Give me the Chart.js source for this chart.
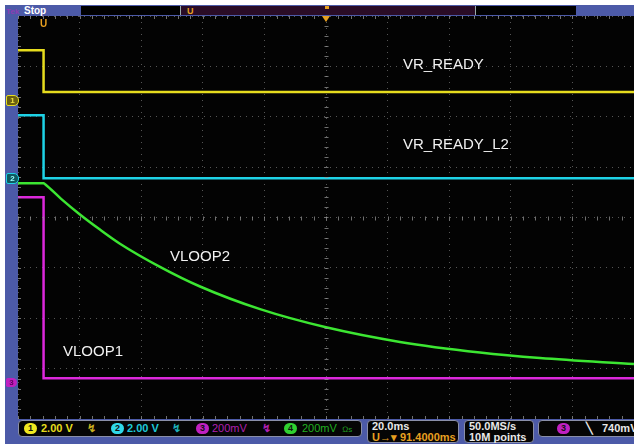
<!DOCTYPE html>
<html>
<head>
<meta charset="utf-8">
<script src="https://cdn.jsdelivr.net/npm/chart.js@4.4.0/dist/chart.umd.min.js"></script>
<style>
  body { margin: 0; background: #fff; }
  #scope { position: relative; width: 634px; height: 444px; overflow: hidden; background: #fff; font-family: "Liberation Sans", Arial, sans-serif; }
  .frame { position: absolute; background: #4c5aa8; }
  #plot { position: absolute; left: 18px; top: 16px; width: 616px; height: 403px; background: #030303; }
  .lbl { position: absolute; color: #f2f2f2; font-size: 15px; line-height: 15px; white-space: nowrap; }
  .box { position: absolute; background: #050505; border: 1px solid #8a8fa8; border-radius: 4px; box-sizing: border-box; }
  .st { position: absolute; font-size: 11px; font-weight: bold; line-height: 11px; white-space: nowrap; }
  .badge { position: absolute; width: 13px; height: 11px; border-radius: 6px; font-size: 9px; font-weight: bold; line-height: 11px; text-align: center; color: #111; }
  .gnd { position: absolute; left: 6px; width: 11px; height: 9px; border-radius: 2px 5px 5px 2px; font-size: 8px; font-weight: bold; line-height: 9px; text-align: center; }
</style>
</head>
<body>
<div id="scope">
  <div class="frame" style="left:5px;top:5px;width:629px;height:11px;"></div>
  <div class="frame" style="left:5px;top:5px;width:13px;height:439px;"></div>
  <div class="frame" style="left:5px;top:419px;width:629px;height:25px;"></div>

  <!-- top bar -->
  <div class="st" style="left:6px;top:6px;color:#8c3cb4;font-size:8px;">Tek</div>
  <div class="st" style="left:24px;top:5px;color:#fff;font-size:10px;">Stop</div>
  <div style="position:absolute;left:81px;top:6px;width:495px;height:9px;background:#000;"></div>
  <div style="position:absolute;left:180px;top:6px;width:296px;height:9px;background:#2a0c26;border-left:1px solid #9aa;border-right:1px solid #9aa;box-sizing:border-box;"></div>
  <div class="st" style="left:187px;top:6px;color:#e8a020;font-size:9px;">U</div>
  <div style="position:absolute;left:325px;top:6px;width:4px;height:3px;background:#e8a020;"></div>

  <div id="plot"><canvas id="chart" width="616" height="403"></canvas></div>

  <!-- trigger markers in plot -->
  <div style="position:absolute;left:322px;top:16px;width:0;height:0;border-left:4px solid transparent;border-right:4px solid transparent;border-top:6px solid #e8a020;"></div>
  <div class="st" style="left:40px;top:18px;color:#e8a020;font-size:10px;">U</div>

  <!-- channel ground markers -->
  <div class="gnd" style="top:95px;background:#6a6010;color:#f0e040;border:1px solid #e6dc1e;">1</div>
  <div class="gnd" style="top:173px;background:#105a60;color:#9ff;border:1px solid #1ed2e6;">2</div>
  <div class="gnd" style="top:378px;background:#c020c0;color:#600060;">3</div>

  <!-- trace labels -->
  <div class="lbl" style="left:403px;top:56px;">VR_READY</div>
  <div class="lbl" style="left:403px;top:136px;">VR_READY_L2</div>
  <div class="lbl" style="left:170px;top:248px;">VLOOP2</div>
  <div class="lbl" style="left:63px;top:343px;">VLOOP1</div>

  <!-- status bar -->
  <div class="box" style="left:18px;top:420px;width:344px;height:17px;"></div>
  <div class="badge" style="left:24px;top:423px;background:#f0e820;">1</div>
  <div class="st" style="left:41px;top:423px;color:#e6dc1e;">2.00 V</div>
  <div class="st" style="left:87px;top:423px;color:#c8b020;">&#x21AF;</div>
  <div class="badge" style="left:111px;top:423px;background:#30d8e8;">2</div>
  <div class="st" style="left:127px;top:423px;color:#1ec8d8;">2.00 V</div>
  <div class="st" style="left:172px;top:423px;color:#1eb0b8;">&#x21AF;</div>
  <div class="badge" style="left:196px;top:423px;background:#c020c0;">3</div>
  <div class="st" style="left:212px;top:423px;color:#b020b0;font-weight:normal;">200mV</div>
  <div class="st" style="left:262px;top:423px;color:#b020b0;">&#x21AF;</div>
  <div class="badge" style="left:284px;top:423px;background:#30d030;">4</div>
  <div class="st" style="left:302px;top:423px;color:#20b020;font-weight:normal;">200mV</div>
  <div class="st" style="left:342px;top:424px;color:#20a020;font-weight:normal;font-size:8px;">&#x2126;s</div>

  <div class="box" style="left:367px;top:420px;width:92px;height:23px;"></div>
  <div class="st" style="left:372px;top:421px;color:#e8e8e8;">20.0ms</div>
  <div class="st" style="left:372px;top:432px;color:#e8a020;">U&#x2192;&#x25BE; 91.4000ms</div>

  <div class="box" style="left:464px;top:420px;width:70px;height:23px;"></div>
  <div class="st" style="left:469px;top:421px;color:#e8e8e8;">50.0MS/s</div>
  <div class="st" style="left:469px;top:432px;color:#e8e8e8;">10M points</div>

  <div class="box" style="left:538px;top:420px;width:100px;height:17px;"></div>
  <div class="badge" style="left:557px;top:423px;background:#c020c0;">3</div>
  <div class="st" style="left:586px;top:423px;color:#e8e8e8;">&#x2572;</div>
  <div class="st" style="left:602px;top:423px;color:#e8e8e8;">740mV</div>
</div>

<script>
// time in ms (20 ms/div, 10 div), levels in screen divisions (0..8)
const stepTimes = [0, 8.3, 8.3, 200];
const vrReady = [7.32, 7.32, 6.49, 6.49];
const vrReadyL2 = [6.03, 6.03, 4.78, 4.78];
const vloop1 = [4.40, 4.40, 0.81, 0.81];

const vloop2Times = [0, 8.3, 8.8, 14.0, 20.1, 26.6, 33.1, 46.1, 59.1, 78.6, 100, 124, 150, 169.5, 200];
const vloop2 = [4.68, 4.68, 4.66, 4.37, 4.06, 3.76, 3.48, 3.02, 2.63, 2.18, 1.82, 1.53, 1.32, 1.21, 1.09];

function toPoints(xs, ys) {
    return xs.map((x, i) => ({ x: x, y: ys[i] }));
}

// minor ticks along the centre crosshair and the edges, like a scope graticule
const graticuleTicks = {
    id: 'graticuleTicks',
    afterDraw(chart) {
        const ctx = chart.ctx;
        const xs = chart.scales.x, ys = chart.scales.y;
        ctx.save();
        ctx.strokeStyle = 'rgba(150,150,150,0.75)';
        ctx.lineWidth = 1;
        const cx = Math.round(xs.getPixelForValue(100)) + 0.5;
        const cy = Math.round(ys.getPixelForValue(4)) + 0.5;
        for (let t = 0; t <= 200; t += 4) {
            const px = Math.round(xs.getPixelForValue(t)) + 0.5;
            ctx.beginPath();
            ctx.moveTo(px, cy - 2); ctx.lineTo(px, cy + 2);
            ctx.moveTo(px, chart.chartArea.top); ctx.lineTo(px, chart.chartArea.top + 3);
            ctx.moveTo(px, chart.chartArea.bottom); ctx.lineTo(px, chart.chartArea.bottom - 3);
            ctx.stroke();
        }
        for (let d = 0; d <= 8; d += 0.2) {
            const py = Math.round(ys.getPixelForValue(d)) + 0.5;
            ctx.beginPath();
            ctx.moveTo(cx - 2, py); ctx.lineTo(cx + 2, py);
            ctx.moveTo(chart.chartArea.left, py); ctx.lineTo(chart.chartArea.left + 3, py);
            ctx.stroke();
        }
        ctx.restore();
    }
};

new Chart(document.getElementById('chart'), {
    type: 'line',
    data: {
        datasets: [{
            label: 'VLOOP1',
            data: toPoints(stepTimes, vloop1),
            borderColor: '#dc28dc',
            borderWidth: 2.5
        }, {
            label: 'VLOOP2',
            data: toPoints(vloop2Times, vloop2),
            borderColor: '#3ce632',
            borderWidth: 2.5,
            cubicInterpolationMode: 'monotone'
        }, {
            label: 'VR_READY_L2',
            data: toPoints(stepTimes, vrReadyL2),
            borderColor: '#1ed2e6',
            borderWidth: 2.5
        }, {
            label: 'VR_READY',
            data: toPoints(stepTimes, vrReady),
            borderColor: '#e6dc1e',
            borderWidth: 2.5
        }]
    },
    options: {
        responsive: false,
        animation: false,
        layout: { padding: 0 },
        elements: { point: { radius: 0 }, line: { tension: 0 } },
        plugins: { legend: { display: false }, tooltip: { enabled: false } },
        scales: {
            x: {
                type: 'linear',
                min: 0,
                max: 200,
                ticks: { display: false, stepSize: 20 },
                grid: { color: 'rgba(140,140,140,0.6)', drawTicks: false },
                border: { display: false, dash: [1, 5] }
            },
            y: {
                min: 0,
                max: 8,
                ticks: { display: false, stepSize: 1 },
                grid: { color: 'rgba(140,140,140,0.6)', drawTicks: false },
                border: { display: false, dash: [1, 5] }
            }
        }
    },
    plugins: [graticuleTicks]
});
</script>
</body>
</html>
